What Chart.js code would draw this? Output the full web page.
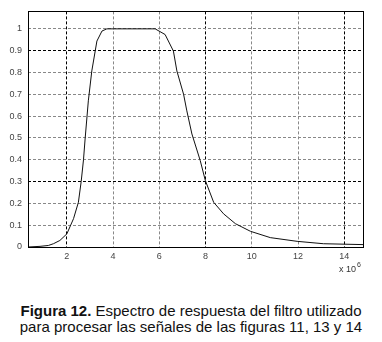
<!DOCTYPE html>
<html>
<head>
<meta charset="utf-8">
<script src="https://cdn.jsdelivr.net/npm/chart.js@4/dist/chart.umd.min.js"></script>
<style>
    html, body { margin: 0; padding: 0; background: #fff; }
    body { width: 382px; height: 342px; overflow: hidden; }
    #wrap { width: 382px; height: 282px; position: relative; }
    #caption {
        font-family: "Liberation Sans", Arial, sans-serif;
        font-size: 15px;
        color: #111;
        text-align: center;
        line-height: 16px;
        margin-top: 21px;
    }
</style>
</head>
<body>
<div id="wrap"><canvas id="chart"></canvas></div>
<div id="caption"><b>Figura 12.</b> Espectro de respuesta del filtro utilizado<br>para procesar las señales de las figuras 11, 13 y 14</div>

<script>
// frequency (x 10^6) and normalised filter gain
const freq = [0.32, 0.84, 1.2, 1.42, 1.7, 2.0, 2.29, 2.5, 2.62, 2.72, 2.79, 2.93, 3.08, 3.3, 3.52, 3.73,
    5.82, 6.25, 6.61, 6.76, 7.05, 7.19, 7.41, 7.77, 7.99, 8.35, 8.78, 9.29, 9.94, 10.8, 11.96, 13.1, 14.81];
const gain = [0, 0.003, 0.007, 0.015, 0.03, 0.06, 0.13, 0.205, 0.30, 0.40, 0.495, 0.67, 0.807, 0.944, 0.99, 1.0,
    1.0, 0.974, 0.898, 0.807, 0.70, 0.624, 0.518, 0.396, 0.305, 0.205, 0.152, 0.107, 0.072, 0.043, 0.026, 0.015, 0.011];

const xTicks = [2, 4, 6, 8, 10, 12, 14];
const yTicks = [0, 0.1, 0.2, 0.3, 0.4, 0.5, 0.6, 0.7, 0.8, 0.9, 1];
const darkX = [2, 8, 14];
const darkY = [0, 0.3, 0.9];

const points = freq.map((f, i) => ({ x: f, y: gain[i] }));

// frame round the plot + the "x 10^6" exponent
const framePlugin = {
    id: 'frame',
    afterDraw(chart) {
        const { ctx, chartArea: a } = chart;
        ctx.save();
        ctx.strokeStyle = '#000';
        ctx.lineWidth = 1;
        ctx.strokeRect(Math.round(a.left) + 0.5, Math.round(a.top) + 0.5,
            Math.round(a.right - a.left), Math.round(a.bottom - a.top));
        ctx.fillStyle = '#333';
        ctx.font = '9px "Liberation Sans", Arial, sans-serif';
        ctx.textBaseline = 'alphabetic';
        ctx.fillText('x 10', 339, 272);
        ctx.font = '7px "Liberation Sans", Arial, sans-serif';
        ctx.fillText('6', 357, 267);
        ctx.restore();
    }
};

const gridColor = (list) => (c) => {
    const v = c.tick ? c.tick.value : null;
    return list.some(d => Math.abs(d - v) < 1e-6) ? '#000' : '#888';
};

new Chart(document.getElementById('chart'), {
    type: 'scatter',
    data: {
        datasets: [{
            data: points,
            showLine: true,
            borderColor: '#111',
            borderWidth: 1,
            pointRadius: 0,
            tension: 0
        }]
    },
    options: {
        responsive: true,
        maintainAspectRatio: false,
        animation: false,
        layout: { padding: { left: 0, top: 10, right: 19, bottom: 0 } },
        plugins: { legend: { display: false }, tooltip: { enabled: false } },
        scales: {
            x: {
                type: 'linear',
                min: 0.32,
                max: 14.81,
                afterBuildTicks: (s) => { s.ticks = xTicks.map(v => ({ value: v })); },
                afterFit: (s) => { s.height = 35; },
                border: { display: false, dash: [3, 2] },
                grid: { color: gridColor(darkX), lineWidth: 1, drawTicks: false },
                ticks: {
                    color: '#444',
                    font: { family: '"Liberation Sans", Arial, sans-serif', size: 9 },
                    padding: 4,
                    maxRotation: 0
                }
            },
            y: {
                min: 0,
                max: 1.08,
                afterBuildTicks: (s) => { s.ticks = yTicks.map(v => ({ value: v })); },
                afterFit: (s) => { s.width = 28; },
                border: { display: false, dash: [3, 2] },
                grid: { color: gridColor(darkY), lineWidth: 1, drawTicks: false },
                ticks: {
                    color: '#444',
                    font: { family: '"Liberation Sans", Arial, sans-serif', size: 9 },
                    padding: 6,
                    callback: (v) => String(Math.round(v * 10) / 10)
                }
            }
        }
    },
    plugins: [framePlugin]
});
</script>
</body>
</html>
